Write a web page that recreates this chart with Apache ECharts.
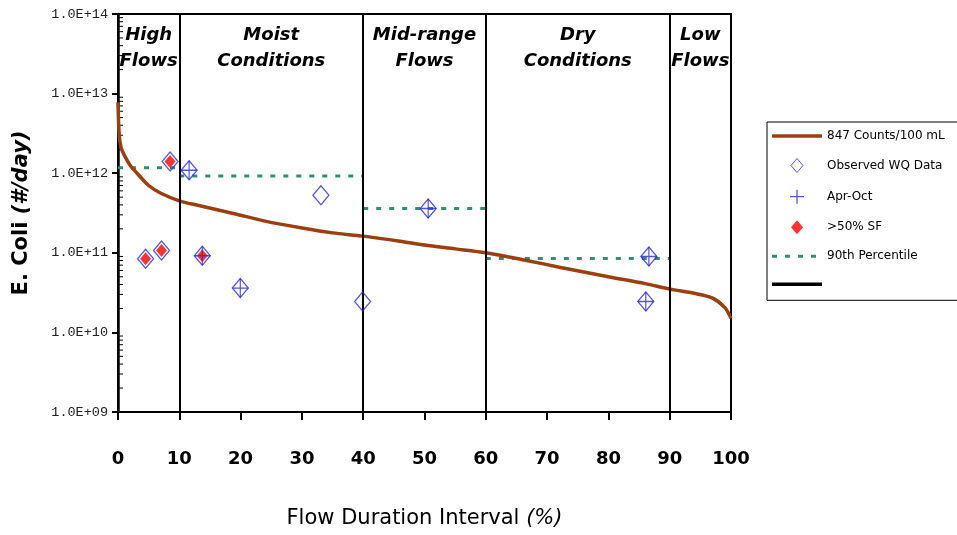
<!DOCTYPE html>
<html><head><meta charset="utf-8">
<script src="https://cdn.jsdelivr.net/npm/echarts@6/dist/echarts.min.js"></script>
<style>html,body{margin:0;padding:0;background:#fff}#c{width:957px;height:535px}</style>
</head><body><div id="c"></div>
<script>
// ---- data ----
var curveX = [0, 0.2, 0.5, 1, 2, 3, 5, 7, 10, 13, 19, 24, 30, 35, 40, 46, 50, 55, 60, 66, 72, 80, 86, 90, 94, 97, 99, 100];
var curveY = [7.8e12, 3.0e12, 2.1e12, 1.7e12, 1.25e12, 1.02e12, 7.0e11, 5.6e11, 4.5e11, 3.95e11, 3.1e11, 2.5e11, 2.05e11, 1.78e11, 1.62e11, 1.4e11, 1.25e11, 1.12e11, 1.0e11, 8.2e10, 6.6e10, 5.0e10, 4.1e10, 3.5e10, 3.1e10, 2.7e10, 2.05e10, 1.5e10];

var observedX = [4.5, 7.1, 8.5, 11.6, 13.75, 19.95, 33.1, 39.9, 50.6, 86.6, 86.1];
var observedY = [8.4e10, 1.07e11, 1.40e12, 1.09e12, 9.2e10, 3.6e10, 5.3e11, 2.45e10, 3.6e11, 9.0e10, 2.45e10];

var aprOctX = [11.6, 13.75, 19.95, 50.6, 86.6, 86.1];
var aprOctY = [1.09e12, 9.2e10, 3.6e10, 3.6e11, 9.0e10, 2.45e10];

var sf50X = [4.5, 7.1, 8.5, 13.75];
var sf50Y = [8.4e10, 1.07e11, 1.40e12, 9.2e10];

var pctStart = [0, 10, 40, 60];
var pctEnd = [10, 40, 60, 90];
var pctValue = [1.17e12, 9.2e11, 3.6e11, 8.5e10];

var zoneBounds = [10, 40, 60, 90];
var zoneStart = [0, 10, 40, 60, 90];
var zoneEnd = [10, 40, 60, 90, 100];
var zoneNames = ['High\nFlows', 'Moist\nConditions', 'Mid-range\nFlows', 'Dry\nConditions', 'Low\nFlows'];

var xTicks = [0, 10, 20, 30, 40, 50, 60, 70, 80, 90, 100];
var yDecades = [9, 10, 11, 12, 13, 14];

var seriesNames = ['847 Counts/100 mL', 'Observed WQ Data', 'Apr-Oct', '>50% SF', '90th Percentile', ' '];

// ---- build ----
function zip(a, b) { return a.map(function (v, i) { return [v, b[i]]; }); }
var pctData = [];
pctStart.forEach(function (s, i) {
  pctData.push([s, pctValue[i]]);
  pctData.push([pctEnd[i], pctValue[i]]);
  pctData.push([pctEnd[i], '-']);
});
var minorData = [];
for (var d = 0; d < yDecades.length - 1; d++) {
  for (var m = 2; m <= 9; m++) minorData.push([0, m * Math.pow(10, yDecades[d])]);
}
var blue = '#2b2bd0';
var brown = '#9c3f10';
var green = '#2f8f70';
var lineIcon = 'path://M0,0L50,0L50,3.5L0,3.5Z';
var dashIcon = 'path://M0,0h5v3h-5zM13,0h5v3h-5zM26,0h5v3h-5zM39,0h5v3h-5zM50,0h0v3h0z';
var plusIcon = 'path://M5,0L5,10M0,5L10,5';
var diamondIcon = 'path://M6,0L12,7L6,14L0,7Z';
var chart = echarts.init(document.getElementById('c'));
chart.setOption({
  animation: false,
  grid: { left: 118, right: 226, top: 14, bottom: 123, show: true, borderColor: '#000', borderWidth: 2, backgroundColor: 'transparent' },
  legend: {
    orient: 'vertical', left: 767, top: 122,
    itemWidth: 50, itemHeight: 14, itemGap: 16, symbolKeepAspect: true,
    padding: [8, 60, 10, 5],
    borderColor: '#000', borderWidth: 1,
    textStyle: { fontFamily: 'DejaVu Sans', fontSize: 12, color: '#000' },
    data: [
      { name: seriesNames[0], icon: lineIcon, itemStyle: { color: brown, borderWidth: 0 } },
      { name: seriesNames[1], icon: diamondIcon, itemStyle: { color: 'transparent', borderColor: blue, borderWidth: 1 } },
      { name: seriesNames[2], icon: plusIcon, itemStyle: { color: 'transparent', borderColor: blue, borderWidth: 1.3 } },
      { name: seriesNames[3], icon: diamondIcon, itemStyle: { color: '#ff0000', borderWidth: 0 } },
      { name: seriesNames[4], icon: dashIcon, itemStyle: { color: green, borderWidth: 0 } },
      { name: seriesNames[5], icon: lineIcon, itemStyle: { color: '#000', borderWidth: 0 } }
    ]
  },
  xAxis: {
    type: 'value', min: xTicks[0], max: xTicks[xTicks.length - 1], interval: 10,
    axisLine: { lineStyle: { color: '#000', width: 2 } },
    axisTick: { length: 8, lineStyle: { color: '#000', width: 2 } },
    splitLine: { show: false },
    axisLabel: { margin: 38, fontFamily: 'DejaVu Sans', fontWeight: 'bold', fontSize: 18, color: '#000' },
    name: 'Flow Duration Interval {i|(%)}', nameLocation: 'middle', nameGap: 96,
    nameTextStyle: { fontFamily: 'DejaVu Sans', fontSize: 21, color: '#000',
      rich: { i: { fontFamily: 'DejaVu Sans', fontStyle: 'italic', fontSize: 21, color: '#000' } } }
  },
  yAxis: {
    type: 'log', logBase: 10, min: Math.pow(10, yDecades[0]), max: Math.pow(10, yDecades[yDecades.length - 1]),
    axisLine: { lineStyle: { color: '#000', width: 2.5 } },
    axisTick: { length: 6, lineStyle: { color: '#000', width: 2 } },
    splitLine: { show: false },
    axisLabel: { margin: 10, fontFamily: 'Liberation Mono', fontSize: 13.5, color: '#222',
      formatter: function (v) { var e = Math.round(Math.log10(v)); return '1.0E+' + (e < 10 ? '0' + e : e); } },
    name: 'E. Coli {i|(#/day)}', nameLocation: 'middle', nameGap: 86,
    nameTextStyle: { fontFamily: 'DejaVu Sans', fontWeight: 'bold', fontSize: 21, color: '#000',
      rich: { i: { fontFamily: 'DejaVu Sans', fontWeight: 'bold', fontStyle: 'italic', fontSize: 21, color: '#000' } } }
  },
  series: [
    {
      name: ' ', type: 'line', data: [], symbol: 'none',
      lineStyle: { color: '#000', width: 2.5 },
      itemStyle: { color: '#000' },
      markLine: {
        silent: true, symbol: ['none', 'none'], label: { show: false },
        lineStyle: { color: '#000', width: 2, type: 'solid' },
        data: zoneBounds.map(function (b) { return { xAxis: b }; })
      },
      markArea: {
        silent: true, itemStyle: { color: 'transparent' },
        label: { show: true, position: 'insideTop', distance: 8, color: '#000',
          fontFamily: 'DejaVu Sans', fontWeight: 'bold', fontStyle: 'italic', fontSize: 18, lineHeight: 26 },
        data: zoneStart.map(function (s, i) { return [{ xAxis: s, name: zoneNames[i] }, { xAxis: zoneEnd[i] }]; })
      }
    },
    {
      name: 'minor', type: 'custom', silent: true, clip: false, data: minorData,
      renderItem: function (params, api) {
        var p = api.coord([0, api.value(1)]);
        return { type: 'line', shape: { x1: p[0], y1: p[1], x2: p[0] + 5, y2: p[1] }, style: { stroke: '#000', lineWidth: 1 } };
      }
    },
    {
      name: '90th Percentile', type: 'line', data: pctData, symbol: 'none', connectNulls: false,
      lineStyle: { color: green, width: 3, type: [5, 8] }, itemStyle: { color: green }, z: 3
    },
    {
      name: '847 Counts/100 mL', type: 'line', data: zip(curveX, curveY), symbol: 'none', smooth: 0.3,
      lineStyle: { color: brown, width: 3.5 }, itemStyle: { color: brown }, z: 4
    },
    {
      name: '>50% SF', type: 'scatter', data: zip(sf50X, sf50Y), symbol: 'diamond', symbolSize: [11, 13],
      itemStyle: { color: '#ff0000' }, z: 5
    },
    {
      name: 'Observed WQ Data', type: 'scatter', data: zip(observedX, observedY), symbol: 'diamond', symbolSize: [16, 19],
      itemStyle: { color: 'transparent', borderColor: blue, borderWidth: 1.3 }, z: 6
    },
    {
      name: 'Apr-Oct', type: 'scatter', data: zip(aprOctX, aprOctY), symbol: plusIcon, symbolSize: [16, 19],
      itemStyle: { color: 'transparent', borderColor: blue, borderWidth: 1.3 }, z: 7
    }
  ]
});
</script></body></html>
